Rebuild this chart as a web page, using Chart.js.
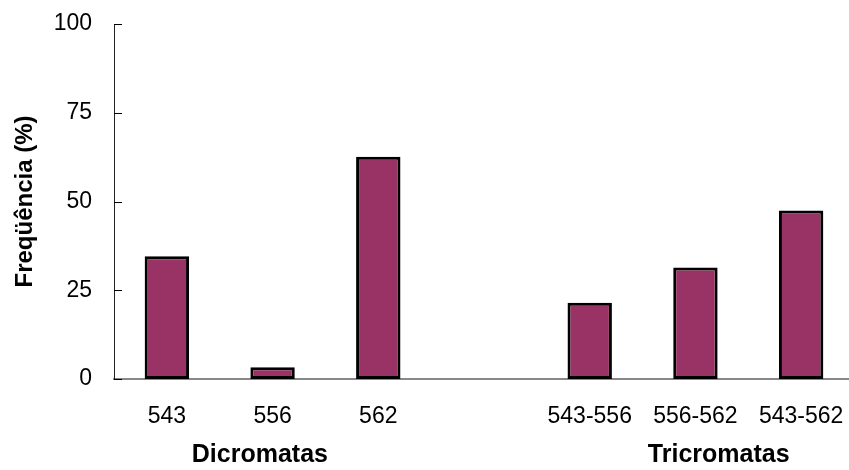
<!DOCTYPE html>
<html>
<head>
<meta charset="utf-8">
<script src="https://cdn.jsdelivr.net/npm/chart.js@4.4.0/dist/chart.umd.min.js"></script>
<style>
  html, body { margin: 0; padding: 0; background: #fff; overflow: hidden; }
  #wrap { width: 854px; height: 470px; }
</style>
</head>
<body>
<div id="wrap"><canvas id="chart"></canvas></div>
<script>
// dados
const categorias = ["543", "556", "562", "", "543-556", "556-562", "543-562"];
const frequencias = [34.6, 3.3, 62.6, null, 21.5, 31.4, 47.5];
const grupos = ["Dicromatas", "Tricromatas"];
const yTicks = [0, 25, 50, 75, 100];

const fonte = "'Liberation Sans', Arial, sans-serif";

// marcas internas do eixo y + rótulos dos grupos
const extras = {
  id: "extras",
  afterDraw(chart, args, opts) {
    const ctx = chart.ctx;
    const x = chart.scales.x, y = chart.scales.y;
    const left = chart.chartArea.left;

    ctx.save();
    ctx.strokeStyle = "#000";
    ctx.lineWidth = 1;
    yTicks.forEach(v => {
      const py = Math.round(y.getPixelForValue(v)) + 0.5;
      ctx.beginPath();
      ctx.moveTo(left, py);
      ctx.lineTo(left + 8, py);
      ctx.stroke();
    });

    ctx.fillStyle = "#000";
    ctx.font = "bold 25px " + fonte;
    ctx.textAlign = "center";
    ctx.textBaseline = "alphabetic";
    grupos.forEach((g, i) => {
      ctx.fillText(g, x.getPixelForValue(opts.pos[i]), chart.chartArea.bottom + opts.dy);
    });
    ctx.restore();
  }
};

new Chart(document.getElementById("chart"), {
  type: "bar",
  data: {
    labels: categorias,
    datasets: [{
      data: frequencias,
      backgroundColor: "#993366",
      borderColor: "#000",
      borderWidth: 3,
      borderSkipped: false,
      barPercentage: 0.42,
      categoryPercentage: 1
    }]
  },
  options: {
    responsive: true,
    maintainAspectRatio: false,
    animation: false,
    layout: { padding: { left: 11, top: 24, right: 0, bottom: 0 } },
    plugins: {
      legend: { display: false },
      tooltip: { enabled: false },
      extras: { pos: [0.88, 5.22], dy: 83 }
    },
    scales: {
      x: {
        grid: { display: false, drawTicks: false },
        border: { display: true, color: "#888", width: 2 },
        ticks: {
          color: "#000",
          font: { family: fonte, size: 23 },
          padding: 24,
          maxRotation: 0,
          autoSkip: false
        },
        afterFit(scale) {
          scale.height = 91;
          scale.paddingLeft = 0;
          scale.paddingRight = 0;
        }
      },
      y: {
        min: 0,
        max: 100,
        grid: { display: false, drawTicks: false },
        border: { display: true, color: "#222", width: 1 },
        ticks: {
          stepSize: 25,
          color: "#000",
          font: { family: fonte, size: 23 },
          padding: 22
        },
        title: {
          display: true,
          text: "Freqüência (%)",
          color: "#000",
          font: { family: fonte, size: 24, weight: "bold" },
          padding: 0
        },
        afterFit(scale) {
          scale.width = 103;
          scale.paddingTop = 0;
          scale.paddingBottom = 0;
        }
      }
    }
  },
  plugins: [extras]
});
</script>
</body>
</html>
